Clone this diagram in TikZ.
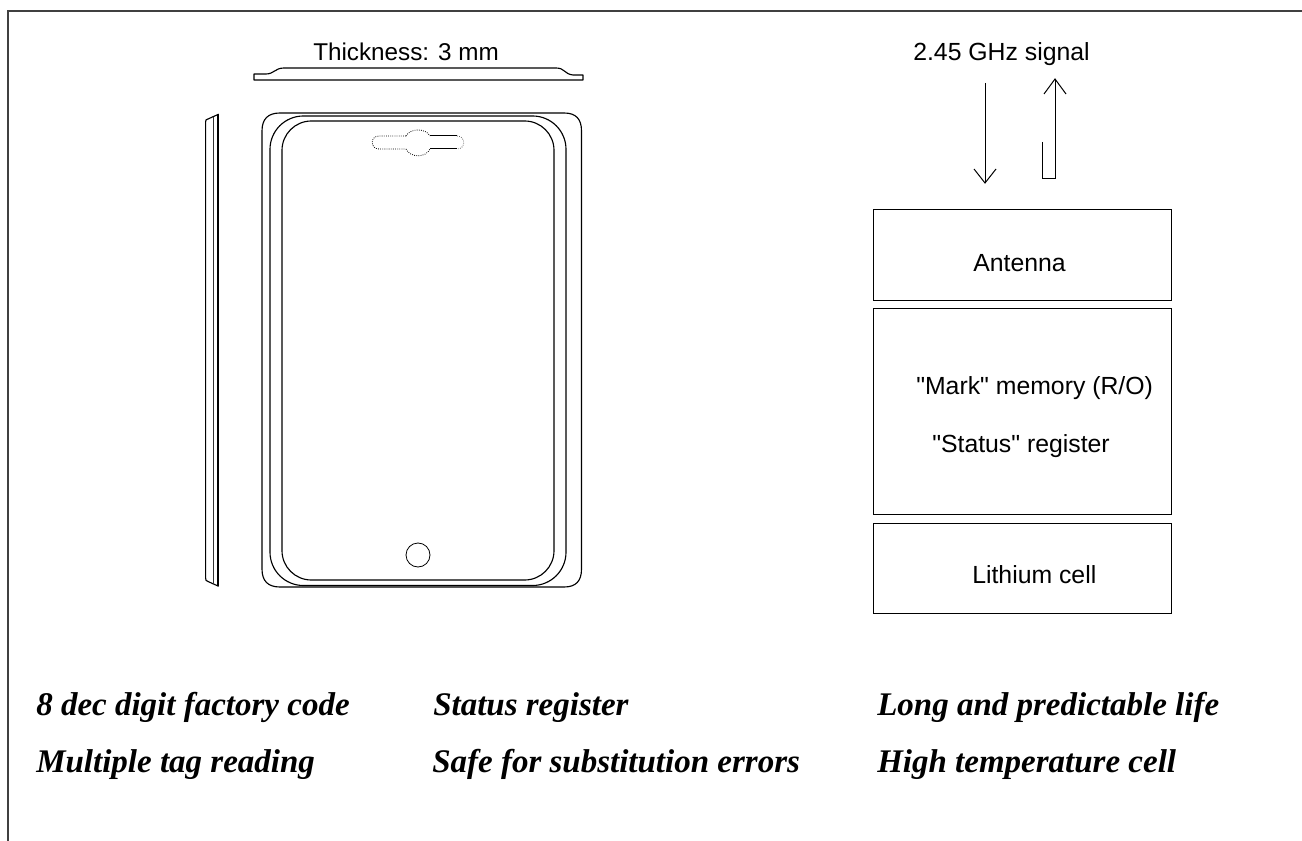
\documentclass[tikz,border=0pt]{standalone}
\usepackage{fontspec}
\setmainfont{Liberation Sans}[Ligatures=TeXOff]
\newfontfamily\timesbi{Liberation Serif}[BoldFont={Liberation Serif Bold},ItalicFont={Liberation Serif Italic},BoldItalicFont={Liberation Serif Bold Italic}]
\tikzset{
  px/.style={x=0.75pt,y=-0.75pt},
  frameline/.style={draw=black!75,line width=1.3pt},
  part/.style={draw=black,line width=0.85pt},
  thin part/.style={draw=black!80,line width=0.7pt},
  blockbox/.style={draw=black,line width=0.65pt,minimum width=223.5pt,inner sep=0pt},
  lab/.style={font=\fontsize{18.6pt}{20pt}\selectfont,inner sep=0pt,anchor=base west},
  feat/.style={font=\timesbi\bfseries\itshape\fontsize{24.75pt}{28pt}\selectfont,inner sep=0pt,anchor=base west},
  sigline/.style={draw=black,line width=0.75pt},
}
\begin{document}
\begin{tikzpicture}[px]
\useasboundingbox (0,0) rectangle (1302,841);
% frame
\coordinate (fbl) at (8,841); \coordinate (ftl) at (8,11); \coordinate (ftr) at (1302,11);
\draw[frameline] (fbl) -- (ftl) -- (ftr);
% thickness profile
\node[lab,font=\fontsize{18.2pt}{20pt}\selectfont] (thick) at (313,61) {Thickness: 3 mm};
\draw[part,line join=round] (254,74) -- (266,74) .. controls (274,74) and (275,68) .. (284,68) -- (556,68) .. controls (565,68) and (564,74) .. (573,75) -- (583,75) -- (583,80) -- (254,80) -- cycle;
% side view
\draw[part] (218,114.5) -- (208,119) .. controls (206,119.5) and (205.6,120) .. (205.6,122) -- (205.6,578) .. controls (205.6,580) and (206,581) .. (208,581.5) -- (218,586) -- cycle;
\draw[thin part] (213,117) -- (213,584);
\draw[draw=black,line width=1.2pt] (218,114.5) -- (218,586);
% front view
\draw[part] (280,113) -- (564,113) .. controls (576,113) and (581.5,119) .. (581.5,131) -- (581.5,569) .. controls (581.5,581) and (576,587) .. (564,587) -- (280,587) .. controls (268,587) and (262,581) .. (262,569) -- (262,131) .. controls (262,119) and (268,113) .. (280,113) -- cycle;
\draw[part,rounded corners=25] (270,116) rectangle (566,585.5);
\draw[part,rounded corners=22] (282,121) rectangle (554,580);
\node[circle,draw=black,line width=0.6pt,minimum size=18pt,inner sep=0pt] (btn) at (418,555) {};
% slot
\draw[draw=black,line width=0.6pt,densely dotted] (406,136) .. controls (410,128) and (426,128) .. (430,136);
\draw[draw=black,line width=0.6pt,densely dotted] (406,149) .. controls (410,158) and (426,158) .. (430,149);
\draw[draw=black,line width=0.6pt,densely dotted] (406,136) -- (379,136) .. controls (370,136) and (370,149) .. (379,149) -- (406,149);
\draw[draw=black,line width=0.75pt] (430,136) -- (457,136);
\draw[draw=black,line width=0.75pt] (430,149) -- (457,149);
\draw[draw=black!60,line width=0.6pt,densely dotted] (457,136) .. controls (466,136) and (466,149) .. (457,149);
% signal
\node[lab] (sig) at (913,61) {2.45 GHz signal};
\coordinate (dtop) at (985,83); \coordinate (dtip) at (985,183);
\coordinate (dl) at (974,169); \coordinate (dr) at (996,169);
\draw[sigline] (dtop) -- (dtip);
\draw[sigline] (dl) -- (dtip) -- (dr);
\coordinate (utop) at (1055,79); \coordinate (ubot) at (1055,179); \coordinate (uleg) at (1042,179); \coordinate (ulegt) at (1042,142);
\coordinate (ul) at (1044,94); \coordinate (ur) at (1066,94);
\draw[sigline] (ulegt) -- (uleg) -- (ubot) -- (utop);
\draw[sigline] (ul) -- (utop) -- (ur);
% blocks
\node[blockbox,minimum height=68.25pt,anchor=north west] (ant) at (873,209) {};
\node[blockbox,minimum height=154.5pt,anchor=north west] (mem) at (873,308) {};
\node[blockbox,minimum height=67.5pt,anchor=north west] (cell) at (873,523) {};
\node[lab] (antl) at (973,272) {Antenna};
\node[lab] (markl) at (916,394) {"Mark" memory (R/O)};
\node[lab] (statl) at (932,452) {"Status" register};
\node[lab] (celll) at (972,583) {Lithium cell};
% features
\node[feat] (f1) at (36,715) {8 dec digit factory code};
\node[feat] (f2) at (433,715) {Status register};
\node[feat] (f3) at (877,715) {Long and predictable life};
\node[feat] (f4) at (36,772) {Multiple tag reading};
\node[feat] (f5) at (432,772) {Safe for substitution errors};
\node[feat] (f6) at (877,772) {High temperature cell};
\end{tikzpicture}
\end{document}
